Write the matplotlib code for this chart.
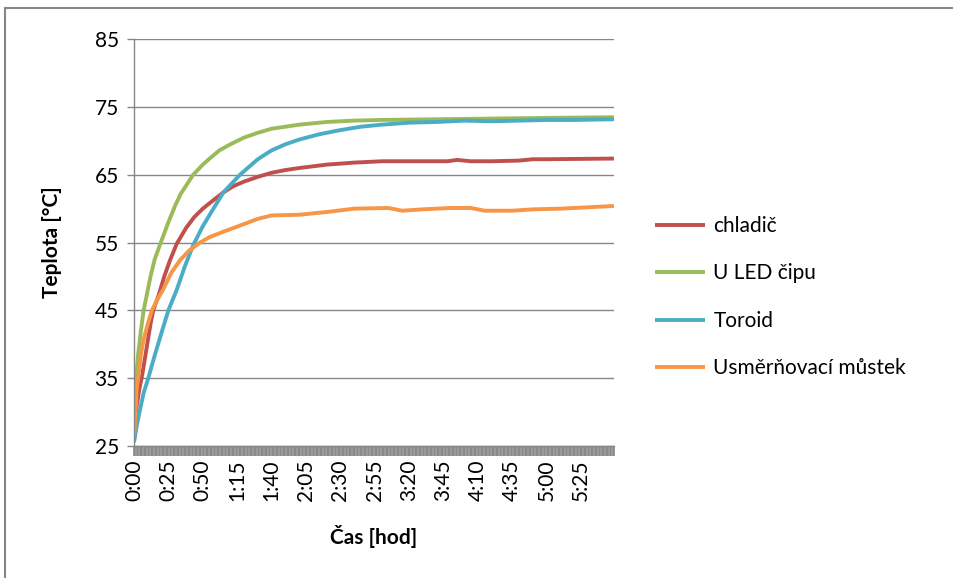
import matplotlib.pyplot as plt
from matplotlib.lines import Line2D
from matplotlib.ticker import MultipleLocator, FuncFormatter

plt.rcParams['font.family'] = ['Lato', 'DejaVu Sans']

# Read-off values (time in minutes, temperature in degC)
red_t = [0, 1, 2, 4, 6, 8, 10, 12, 14, 18, 22, 26, 31, 38, 44, 50, 58, 65,
         72, 80, 90, 100, 110, 120, 140, 160, 180, 200, 228, 235, 245, 260,
         280, 290, 300, 349]
red_v = [26, 28.5, 31, 33.5, 35.5, 38, 40.5, 43, 45, 47.3, 50, 52.3, 54.8,
         57.2, 58.8, 60, 61.3, 62.4, 63.3, 64, 64.7, 65.3, 65.7, 66, 66.5,
         66.8, 67, 67, 67, 67.2, 67, 67, 67.1, 67.3, 67.3, 67.4]

green_t = [0, 1, 1.5, 3, 5, 7, 9, 12, 15, 20, 25, 30, 34, 43, 50, 55, 62, 70,
           80, 90, 100, 110, 120, 140, 160, 180, 220, 260, 300, 349]
green_v = [26.5, 32, 35, 38.5, 42, 45, 47, 50, 52.5, 55.3, 58, 60.5, 62.2, 65,
           66.5, 67.4, 68.6, 69.5, 70.5, 71.2, 71.8, 72.1, 72.4, 72.8, 73, 73.1,
           73.2, 73.3, 73.4, 73.5]

blue_t = [0, 2, 4, 7, 10.4, 15, 20, 25, 28.6, 31, 37, 43, 50, 56.5, 65, 77,
          90, 100, 110, 120, 135, 150, 165, 180, 200, 220, 240, 260, 280, 300,
          320, 349]
blue_v = [25.5, 28, 30, 32.8, 35, 38.3, 41.7, 45, 46.8, 48, 51.5, 54.6, 57.4,
          59.6, 62.4, 65, 67.3, 68.6, 69.5, 70.2, 71, 71.6, 72.1, 72.4, 72.7,
          72.8, 73, 72.9, 73, 73.1, 73.1, 73.2]

orange_t = [0, 0.5, 2, 3, 5, 7, 10, 13, 17, 21, 27, 33.5, 40, 48, 55, 65, 77,
            90, 100, 120, 140, 160, 185, 195, 210, 230, 245, 255, 275, 290,
            310, 330, 349]
orange_v = [26.5, 28, 33.5, 35, 38.5, 40.7, 43, 45, 46.6, 48, 50.5, 52.4, 53.8,
            55, 55.8, 56.6, 57.5, 58.5, 59, 59.1, 59.5, 60, 60.1, 59.7, 59.9,
            60.1, 60.1, 59.7, 59.7, 59.9, 60, 60.2, 60.4]

y_ticks = [25, 35, 45, 55, 65, 75, 85]

series = [
    ('chladič', red_t, red_v, '#C0504D'),
    ('U LED čipu', green_t, green_v, '#9BBB59'),
    ('Toroid', blue_t, blue_v, '#4BACC6'),
    ('Usměrňovací můstek', orange_t, orange_v, '#F79646'),
]

grey = '#868686'

fig = plt.figure(figsize=(9.54, 5.78), dpi=100)
ax = fig.add_axes([0.1405, 0.2289, 0.503, 0.703])

for name, t, v, c in series:
    ax.plot(t, v, color=c, linewidth=2.8, label=name, solid_capstyle='butt')

ax.set_xlim(0, 349)
ax.set_ylim(25, 85)
ax.set_yticks(y_ticks)
ax.xaxis.set_major_locator(MultipleLocator(25))
ax.xaxis.set_minor_locator(MultipleLocator(1))
ax.xaxis.set_major_formatter(FuncFormatter(lambda x, p: '%d:%02d' % (int(x) // 60, int(x) % 60)))
ax.grid(axis='y', color=grey, linewidth=1)
ax.set_axisbelow(True)

for s in ['top', 'right']:
    ax.spines[s].set_visible(False)
for s in ['left', 'bottom']:
    ax.spines[s].set_color(grey)
    ax.spines[s].set_linewidth(1)

ax.tick_params(axis='y', colors=grey, length=5, width=1, labelsize=15, labelcolor='black', pad=6)
ax.tick_params(axis='x', which='major', colors=grey, length=7, width=1.2, labelsize=15,
               labelcolor='black', labelrotation=90, pad=3)
ax.tick_params(axis='x', which='minor', colors=grey, length=7, width=1.2)

ax.set_ylabel('Teplota [°C]', fontsize=15, fontweight='bold')
ax.yaxis.set_label_coords(-0.15, 0.5)
ax.set_xlabel('Čas [hod]', fontsize=15, fontweight='bold')
ax.xaxis.set_label_coords(0.5, -0.195)

fig.legend(loc='center left', bbox_to_anchor=(0.667, 0.486), frameon=False,
           fontsize=15, handlelength=2.4, labelspacing=1.32, handletextpad=0.4)

# chart area border
fig.add_artist(Line2D([5 / 954, 1], [1 - 8 / 578, 1 - 8 / 578], color=grey, linewidth=1.5))
fig.add_artist(Line2D([5 / 954, 5 / 954], [0, 1 - 8 / 578], color=grey, linewidth=1.5))

fig.savefig('out.png', dpi=100)
